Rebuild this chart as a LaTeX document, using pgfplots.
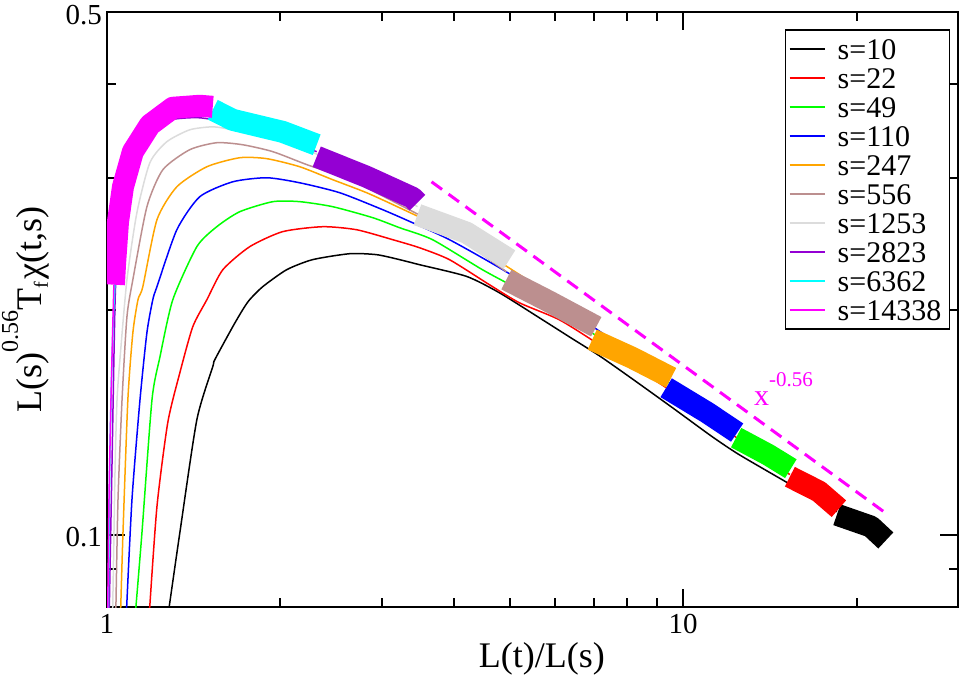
\documentclass[border=0pt]{standalone}
\usepackage{fontspec}
\setmainfont{Liberation Serif}
\usepackage{pgfplots}
\pgfplotsset{compat=1.18}
\usetikzlibrary{calc}
\definecolor{cgreen}{RGB}{0,255,0}
\definecolor{corange}{RGB}{255,165,0}
\definecolor{crosy}{RGB}{188,143,143}
\definecolor{cgray}{RGB}{220,220,220}
\definecolor{cviolet}{RGB}{148,0,211}
\definecolor{ccyan}{RGB}{0,255,255}
\definecolor{cmag}{RGB}{255,0,255}
\definecolor{cred}{RGB}{255,0,0}
\definecolor{cblue}{RGB}{0,0,255}
\pgfplotsset{thinc/.style={color=#1, line width=0.75pt, smooth, tension=0.4},
             band/.style={color=#1, line width=11pt, forget plot}}
\begin{document}
\begin{tikzpicture}
\begin{axis}[
  xmode=log, ymode=log,
  scale only axis, width=425.5pt, height=297.5pt,
  xmin=1, xmax=30, ymin=0.08, ymax=0.5,
  xtick={1,10}, xticklabels={\textrm{1},\textrm{10}},
  minor xtick={2,3,4,5,6,7,8,9,20},
  ytick={0.1,0.5}, yticklabels={\textrm{0.1},\textrm{0.5}},
  minor ytick={0.09,0.2,0.3,0.4},
  major tick length=9pt, minor tick length=4.5pt,
  tick style={black, line width=1pt},
  axis line style={line width=1pt},
  /pgf/number format/assume math mode=true,
  tick label style={font=\rmfamily\fontsize{14.5}{14.5}\selectfont},
  yticklabel style={yshift=-1.5pt, xshift=1pt},
  legend cell align=left,
  legend image code/.code={\draw[#1,line width=1pt] (0pt,0pt) -- (17.5pt,0pt);},
  legend style={at={(0.9906,0.9714)}, anchor=north east, line width=0.75pt,
    inner xsep=1.5pt, inner ysep=2.25pt, column sep=3.5pt,
    font=\rmfamily\fontsize{15}{15}\selectfont,
    nodes={inner xsep=2.5pt, inner ysep=2pt, text height=10.5pt, text depth=0pt}},
  every axis plot/.append style={line join=round},
]
% s=10
\addplot[thinc=black] coordinates {(1.279,0.079) (1.338,0.1006) (1.432,0.1424) (1.526,0.1677) (1.539,0.1714) (1.653,0.1897) (1.721,0.2000) (1.769,0.2062) (1.864,0.2146) (2.051,0.2261) (2.275,0.2332) (2.638,0.2375) (2.938,0.2368) (3.220,0.2332) (3.487,0.2296) (4.207,0.2215) (4.798,0.2106) (5.628,0.1950) (6.422,0.1828) (7.152,0.1735) (8.156,0.1616) (9.571,0.1479) (11.23,0.1352) (12.51,0.1279) (15.26,0.1170) (18.49,0.1073)};
\addlegendentry{s=10}
\addplot[band=black] coordinates {(18.49,0.1063) (21.18,0.1025) (22.48,0.0982)};
% s=22
\addplot[thinc=cred] coordinates {(1.185,0.079) (1.221,0.1090) (1.275,0.1412) (1.338,0.1646) (1.409,0.1897) (1.491,0.2062) (1.589,0.2261) (1.769,0.2427) (2.018,0.2542) (2.368,0.2581) (2.712,0.2557) (3.132,0.2480) (3.487,0.2419) (3.930,0.2332) (4.610,0.2159) (5.197,0.2042) (6.097,0.1938) (7.152,0.1795) (9.571,0.1553) (12.51,0.1340) (15.32,0.1203)};
\addlegendentry{s=22}
\addplot[band=cred] coordinates {(15.32,0.1195) (17.21,0.1142) (18.64,0.1083)};
% s=49
\addplot[thinc=cgreen] coordinates {(1.121,0.079) (1.150,0.1006) (1.197,0.1515) (1.236,0.1730) (1.301,0.2062) (1.432,0.2427) (1.551,0.2581) (1.700,0.2703) (1.941,0.2788) (2.160,0.2788) (2.465,0.2745) (2.891,0.2654) (3.220,0.2573) (3.673,0.2480) (4.483,0.2261) (5.197,0.2126) (6.097,0.1987) (7.152,0.1834) (9.571,0.1586) (12.36,0.1381)};
\addlegendentry{s=49}
\addplot[band=cgreen] coordinates {(12.36,0.1348) (14.04,0.1279) (15.38,0.1225)};
% s=110
\addplot[thinc=cblue] coordinates {(1.081,0.079) (1.105,0.1114) (1.141,0.1515) (1.173,0.1863) (1.201,0.2062) (1.221,0.2146) (1.322,0.2557) (1.449,0.2831) (1.653,0.2964) (1.894,0.3001) (2.160,0.2955) (2.534,0.2866) (3.009,0.2720) (3.391,0.2613) (3.930,0.2480) (4.798,0.2275) (6.097,0.2030) (7.744,0.1795) (9.344,0.1601)};
\addlegendentry{s=110}
\addplot[band=cblue] coordinates {(9.344,0.1572) (11.01,0.1456) (12.41,0.1369)};
% s=247
\addplot[thinc=corange] coordinates {(1.056,0.079) (1.066,0.1006) (1.087,0.1515) (1.109,0.1863) (1.132,0.2062) (1.154,0.2146) (1.221,0.2637) (1.322,0.2919) (1.491,0.3105) (1.700,0.3192) (1.894,0.3183) (2.160,0.3105) (2.465,0.2983) (2.822,0.2866) (3.220,0.2736) (3.930,0.2542) (4.798,0.2317) (5.859,0.2094) (6.955,0.1879)};
\addlegendentry{s=247}
\addplot[band=corange] coordinates {(6.955,0.1823) (8.156,0.1724) (9.533,0.1621)};
% s=556
\addplot[thinc=crosy] coordinates {(1.036,0.079) (1.045,0.1114) (1.062,0.1515) (1.083,0.1956) (1.109,0.2193) (1.173,0.2745) (1.250,0.3076) (1.392,0.3272) (1.551,0.3343) (1.721,0.3322) (1.941,0.3252) (2.222,0.3125) (2.638,0.2983) (3.220,0.2762) (3.930,0.2542) (4.934,0.2247)};
\addlegendentry{s=556}
\addplot[band=crosy] coordinates {(4.934,0.2193) (5.859,0.2049) (7.067,0.1897)};
% s=1253
\addplot[thinc=cgray] coordinates {(1.023,0.079) (1.033,0.1233) (1.041,0.1515) (1.053,0.1714) (1.083,0.2193) (1.127,0.2695) (1.187,0.3144) (1.270,0.3353) (1.392,0.3479) (1.526,0.3511) (1.653,0.3479) (1.994,0.3374) (2.435,0.3173) (2.973,0.2937) (3.459,0.2745)};
\addlegendentry{s=1253}
\addplot[band=cgray] coordinates {(3.459,0.2678) (4.207,0.2534) (4.994,0.2332)};
% s=2823
\addplot[thinc=cviolet] coordinates {(1.009,0.079) (1.020,0.1233) (1.033,0.2062) (1.045,0.2404) (1.075,0.2937) (1.118,0.3272) (1.187,0.3479) (1.286,0.3587) (1.449,0.3610) (1.700,0.3532) (1.994,0.3394) (2.312,0.3252)};
\addlegendentry{s=2823}
\addplot[band=cviolet] coordinates {(2.312,0.3202) (2.822,0.3010) (3.391,0.2822) (3.459,0.2779)};
% s=6362
\addplot[thinc=ccyan] coordinates {(1.005,0.079) (1.012,0.1299) (1.024,0.1879) (1.041,0.2404) (1.075,0.2983) (1.141,0.3374) (1.286,0.3610) (1.526,0.3677)};
\addlegendentry{s=6362}
\addplot[band=ccyan] coordinates {(1.526,0.3700) (1.653,0.3587) (2.018,0.3457) (2.312,0.3322)};
% s=14338
\addplot[thinc=cmag] coordinates {(1.003,0.079) (1.008,0.1114) (1.016,0.1515) (1.024,0.1938) (1.028,0.2159)};
\addlegendentry{s=14338}
\addplot[band=cmag] coordinates {(1.028,0.2159) (1.033,0.2310) (1.045,0.2621) (1.066,0.2919) (1.109,0.3252) (1.187,0.3532) (1.301,0.3723) (1.449,0.3746) (1.526,0.3734)};
% power law guide
\addplot[color=cmag, line width=1.5pt, dash pattern=on 6.5pt off 4pt, forget plot] coordinates {(3.659,0.2964) (22.30,0.1073)};
\node[anchor=base west, inner sep=0pt, text=cmag, font=\rmfamily\fontsize{15}{15}\selectfont] at (axis cs:13.26,0.1487) {x\raisebox{9.5pt}{\fontsize{10.5}{10.5}\selectfont -0.56}};
\coordinate (xl) at (rel axis cs:0.511,-0.1025);
\coordinate (yl) at (rel axis cs:-0.0764,0.5);
\coordinate (bl) at (rel axis cs:0,0);
\coordinate (tr) at (rel axis cs:1,1);
\end{axis}
\node[anchor=base, inner sep=0pt, font=\rmfamily\fontsize{18}{18}\selectfont] at (xl) {L(t)/L(s)};
\node[anchor=base, rotate=90, inner sep=0pt, font=\rmfamily\fontsize{18}{18}\selectfont] at (yl) {L(s)\raisebox{12pt}{\fontsize{12}{12}\selectfont 0.56}T\raisebox{-3pt}{\fontsize{10}{10}\selectfont f}\hspace{1pt}χ(t,s)};
\pgfresetboundingbox
\path ($(bl)+(-53.5pt,-35.5pt)$) rectangle ($(tr)+(1.5pt,6pt)$);
\end{tikzpicture}
\end{document}
